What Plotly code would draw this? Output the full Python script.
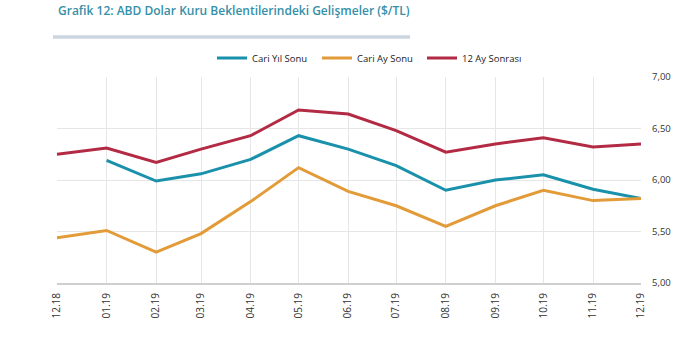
import plotly.graph_objects as go

months = ["2018-12-01", "2019-01-01", "2019-02-01", "2019-03-01", "2019-04-01", "2019-05-01",
          "2019-06-01", "2019-07-01", "2019-08-01", "2019-09-01", "2019-10-01", "2019-11-01",
          "2019-12-01"]
tick_labels = ["12.18", "01.19", "02.19", "03.19", "04.19", "05.19", "06.19", "07.19",
               "08.19", "09.19", "10.19", "11.19", "12.19"]
cari_yil_sonu = [None, 6.19, 5.99, 6.06, 6.20, 6.43, 6.30, 6.14, 5.90, 6.00, 6.05, 5.91, 5.82]
cari_ay_sonu = [5.44, 5.51, 5.30, 5.48, 5.79, 6.12, 5.89, 5.75, 5.55, 5.75, 5.90, 5.80, 5.82]
ay12_sonrasi = [6.25, 6.31, 6.17, 6.30, 6.43, 6.68, 6.64, 6.48, 6.27, 6.35, 6.41, 6.32, 6.35]
y_ticks = [5.0, 5.5, 6.0, 6.5, 7.0]

series = [
    ("Cari Yıl Sonu", cari_yil_sonu, "#1a91ab"),
    ("Cari Ay Sonu", cari_ay_sonu, "#e29b38"),
    ("12 Ay Sonrası", ay12_sonrasi, "#b32a44"),
]

fig = go.Figure()
for name, vals, col in series:
    fig.add_trace(go.Scatter(x=months, y=vals, name=name, mode="lines",
                             line=dict(color=col, width=3)))

W, H = 695, 357
ml, mr, mt, mb = 57, 54, 77, 74
pw = W - ml - mr
ph = H - mt - mb

fig.update_layout(
    width=W, height=H,
    margin=dict(l=ml, r=mr, t=mt, b=mb),
    paper_bgcolor="white", plot_bgcolor="white",
    separators=",.",
    font=dict(family="Open Sans, DejaVu Sans, sans-serif", size=9, color="#333333"),
    title=dict(text="Grafik 12: ABD Dolar Kuru Beklentilerindeki Gelişmeler ($/TL)",
               font=dict(family="Open Sans, sans-serif", size=12, color="#3590a8", weight=600),
               xref="container", yref="container", x=58 / W, xanchor="left",
               y=1 - 7 / H, yanchor="top"),
    legend=dict(orientation="h", x=(212 - ml) / pw, xanchor="left", y=1 + (mt - 58) / ph,
                yanchor="middle", font=dict(size=9.5, color="#222222"), itemwidth=30,
                entrywidth=60, entrywidthmode="pixels", tracegroupgap=0,
                bgcolor="rgba(0,0,0,0)"),
    showlegend=True,
    xaxis=dict(type="date", range=[months[0], months[-1]], tickvals=months, ticktext=tick_labels,
               tickangle=-90, showgrid=True, gridcolor="#e6e6e6", gridwidth=1,
               showline=True, linecolor="#cfcfcf", linewidth=2, ticks="",
               ticklabelstandoff=4,
               tickfont=dict(size=10, color="#333333")),
    yaxis=dict(side="right", range=[5, 7], tickvals=y_ticks, tickformat=".2f",
               showgrid=True, gridcolor="#e6e6e6", gridwidth=1, zeroline=False,
               ticks="", ticklabelstandoff=10, tickfont=dict(size=9.5, color="#333333")),
    shapes=[dict(type="line", xref="paper", yref="paper",
                 x0=(53 - ml) / pw, x1=(410 - ml) / pw,
                 y0=1 + (mt - 37) / ph, y1=1 + (mt - 37) / ph,
                 line=dict(color="#ccd6e0", width=3.5))],
)

fig.write_html("out.html", config={"displayModeBar": False},
               post_script="document.body.style.margin='0';")
